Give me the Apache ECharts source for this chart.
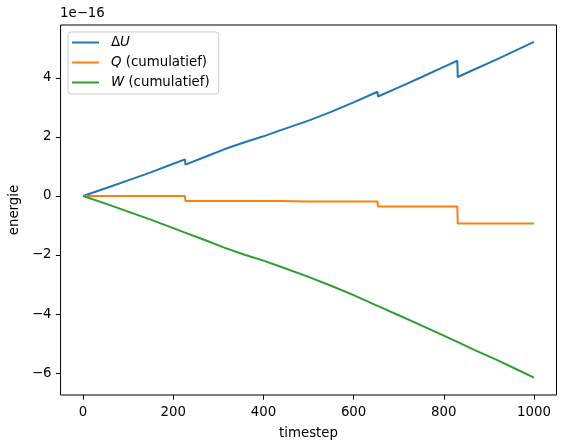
<!DOCTYPE html>
<html>
<head>
<meta charset="utf-8">
<script src="https://cdn.jsdelivr.net/npm/echarts@6/dist/echarts.min.js"></script>
<style>
html,body{margin:0;padding:0;background:#fff;}
#c{width:565px;height:448px;}
</style>
</head>
<body>
<div id="c"></div>
<script>
// values in units of 1e-16
const timesteps = [0, 50, 100, 150, 200, 226, 227, 270, 313, 360, 400, 437, 438, 500, 550, 600, 653, 654, 700, 750, 800, 830, 831, 870, 920, 960, 1000];
const deltaU =    [0, 0.26, 0.53, 0.80, 1.09, 1.24, 1.06, 1.32, 1.58, 1.83, 2.02, 2.22, 2.20, 2.55, 2.85, 3.17, 3.53, 3.37, 3.68, 4.02, 4.37, 4.58, 4.03, 4.30, 4.64, 4.93, 5.22];
const Qcum =      [0, 0, 0, 0, 0, 0, -0.17, -0.17, -0.17, -0.17, -0.17, -0.17, -0.19, -0.19, -0.19, -0.19, -0.19, -0.36, -0.36, -0.36, -0.36, -0.36, -0.93, -0.93, -0.93, -0.93, -0.93];
const Wcum =      [0, -0.26, -0.53, -0.80, -1.09, -1.24, -1.23, -1.49, -1.75, -2.00, -2.19, -2.39, -2.39, -2.74, -3.04, -3.36, -3.72, -3.73, -4.04, -4.38, -4.73, -4.94, -4.96, -5.23, -5.57, -5.86, -6.15];
const xTicks = [0, 200, 400, 600, 800, 1000];
const yTicks = [-6, -4, -2, 0, 2, 4];
const seriesNames = ['dU', 'Q', 'W'];

const FONT = 'DejaVu Sans';
const FS = 13.33;
const colors = ['#1f77b4', '#ff7f0e', '#2ca02c'];
function pairs(ys){ return timesteps.map((t,i)=>[t, ys[i]]); }
function fmt(v){ return v < 0 ? '\u2212' + Math.abs(v) : String(v); }

const chart = echarts.init(document.getElementById('c'), null, {renderer:'canvas'});
const datas = [deltaU, Qcum, Wcum];
chart.setOption({
  animation: false,
  backgroundColor: '#ffffff',
  grid: {left: 59.5, right: 8.5, top: 25, bottom: 53, containLabel: false, show: true, borderColor: '#000', borderWidth: 1, backgroundColor: 'transparent'},
  graphic: [
    {type:'text', left: 60, top: 7, style:{text:'1e\u221216', font: FS + 'px "DejaVu Sans"', fill:'#000'}}
  ],
  legend: {
    left: 68, top: 32, orient: 'vertical',
    data: seriesNames,
    icon: 'rect', itemWidth: 27, itemHeight: 2, itemGap: 7,
    padding: [4, 9, 5, 4],
    backgroundColor: 'rgba(255,255,255,0.8)',
    borderColor: '#cccccc', borderWidth: 1, borderRadius: 3,
    formatter: function(n){
      if (n === 'dU') return '\u0394{i|U}';
      if (n === 'Q') return '{i|Q} (cumulatief)';
      return '{i|W} (cumulatief)';
    },
    textStyle: {
      fontFamily: FONT, fontSize: FS, color: '#000', padding: [0,0,0,7],
      rich: { i: {fontStyle: 'italic', fontFamily: FONT, fontSize: FS, color:'#000'} }
    }
  },
  xAxis: {
    type: 'value', min: -50, max: 1050,
    name: 'timestep', nameLocation: 'middle', nameGap: 32,
    nameTextStyle: {fontFamily: FONT, fontSize: FS, color: '#000'},
    axisLine: {show: false, onZero: false},
    axisTick: {show: true, length: 4.67, inside: false, lineStyle:{color:'#000', width: 1}, customValues: xTicks},
    axisLabel: {fontFamily: FONT, fontSize: FS, color:'#000', margin: 11, customValues: xTicks, formatter: fmt},
    splitLine: {show: false}
  },
  yAxis: {
    type: 'value', min: -6.74, max: 5.79,
    name: 'energie', nameLocation: 'middle', nameGap: 37, nameRotate: 90,
    nameTextStyle: {fontFamily: FONT, fontSize: FS, color: '#000'},
    axisLine: {show: false, onZero: false},
    axisTick: {show: true, length: 4.67, inside: false, lineStyle:{color:'#000', width: 1}, customValues: yTicks},
    axisLabel: {fontFamily: FONT, fontSize: FS, color:'#000', margin: 9, customValues: yTicks, formatter: fmt},
    splitLine: {show: false}
  },
  series: seriesNames.map((n, k) => ({
    name: n, type: 'line', data: pairs(datas[k]),
    showSymbol: false, symbol: 'none',
    lineStyle: {color: colors[k], width: 2},
    itemStyle: {color: colors[k]},
    z: 2 + k
  }))
});
</script>
</body>
</html>
